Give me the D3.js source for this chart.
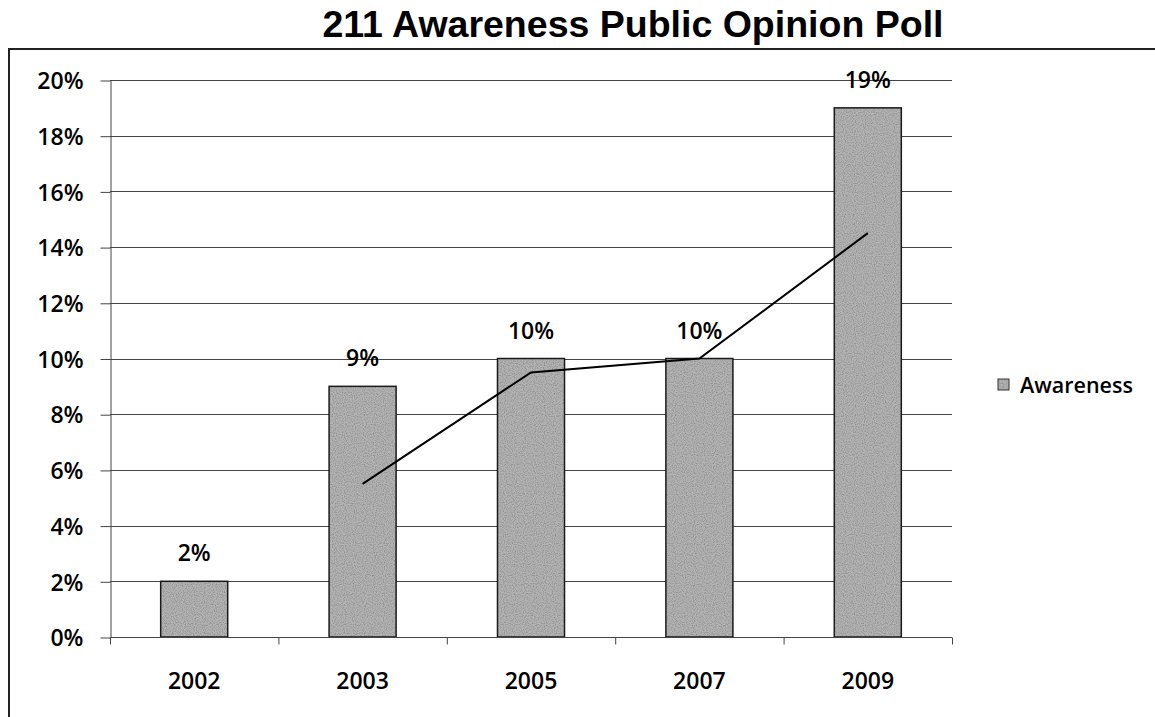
<!DOCTYPE html>
<html>
<head>
<meta charset="utf-8">
<script src="https://cdn.jsdelivr.net/npm/d3@7"></script>
<style>
  html, body { margin: 0; padding: 0; background: #fff; }
  svg { display: block; }
  .lbl { font-family: "Open Sans", "Noto Sans", sans-serif; fill: #000; font-weight: 600; }
</style>
</head>
<body>
<svg id="chart" width="1155" height="717"></svg>
<script>
// Poll years and share of respondents aware of 211
const years = ["2002", "2003", "2005", "2007", "2009"];
const awareness = [0.02, 0.09, 0.10, 0.10, 0.19];
const valueLabels = ["2%", "9%", "10%", "10%", "19%"];
// Two-period moving average trendline (no value for the first year)
const trendYears = ["2003", "2005", "2007", "2009"];
const trendValues = [0.055, 0.095, 0.10, 0.145];
const yTicks = [0, 0.02, 0.04, 0.06, 0.08, 0.10, 0.12, 0.14, 0.16, 0.18, 0.20];
const seriesName = "Awareness";
const titleText = "211 Awareness Public Opinion Poll";

const svg = d3.select("#chart");
const plotLeft = 110, plotRight = 952, plotTop = 80, plotBottom = 637;

const x = d3.scaleBand().domain(years).range([plotLeft, plotRight])
  .paddingInner(0.602).paddingOuter(0.301);
const y = d3.scaleLinear().domain([0, 0.2]).range([plotBottom, plotTop]);

const barFill = "#b3b3b3";

// Speckled grey texture for the bar fill
const defs = svg.append("defs");
const grain = defs.append("filter").attr("id", "grain")
  .attr("x", 0).attr("y", 0).attr("width", 1).attr("height", 1);
grain.append("feTurbulence").attr("type", "fractalNoise")
  .attr("baseFrequency", 0.9).attr("numOctaves", 1).attr("seed", 3).attr("result", "noise");
grain.append("feColorMatrix").attr("in", "noise").attr("type", "matrix")
  .attr("values", "0 0 0 0 0  0 0 0 0 0  0 0 0 0 0  0 0 0 1.0 -0.4")
  .attr("result", "dots");
grain.append("feComposite").attr("in", "dots").attr("in2", "SourceGraphic")
  .attr("operator", "in").attr("result", "dotsIn");
grain.append("feMerge").call(m => {
  m.append("feMergeNode").attr("in", "SourceGraphic");
  m.append("feMergeNode").attr("in", "dotsIn");
});

// Chart frame
svg.append("path")
  .attr("d", `M9,717 L9,49 L1155,49`)
  .attr("fill", "none").attr("stroke", "#222").attr("stroke-width", 2);

// Title
svg.append("text")
  .attr("x", 633).attr("y", 37)
  .attr("text-anchor", "middle")
  .style("font-family", "'Liberation Sans', Arial, sans-serif")
  .style("font-weight", "bold").style("font-size", "37.5px")
  .text(titleText);

// Horizontal gridlines
svg.append("g").selectAll("line").data(yTicks.slice(1)).join("line")
  .attr("x1", plotLeft).attr("x2", plotRight)
  .attr("y1", d => Math.round(y(d)) + 0.5).attr("y2", d => Math.round(y(d)) + 0.5)
  .attr("stroke", "#444").attr("stroke-width", 1);

// Y axis
const yAxis = svg.append("g").attr("transform", `translate(${plotLeft + 0.5},0.5)`)
  .call(d3.axisLeft(y).tickValues(yTicks).tickFormat(d3.format(".0%"))
    .tickSize(10).tickSizeOuter(0).tickPadding(17));
yAxis.select(".domain").attr("stroke", "#444");
yAxis.selectAll(".tick line").attr("stroke", "#444");
yAxis.selectAll(".tick text").attr("class", "lbl")
  .style("font-size", "23px").attr("fill", "#000").attr("dy", "0.36em");

// Bars
svg.append("g").selectAll("rect").data(years).join("rect")
  .attr("x", d => x(d))
  .attr("y", (d, i) => y(awareness[i]))
  .attr("width", x.bandwidth())
  .attr("height", (d, i) => y(0) - y(awareness[i]))
  .attr("fill", barFill).attr("filter", "url(#grain)");
svg.append("g").selectAll("rect").data(years).join("rect")
  .attr("x", d => x(d))
  .attr("y", (d, i) => y(awareness[i]))
  .attr("width", x.bandwidth())
  .attr("height", (d, i) => y(0) - y(awareness[i]))
  .attr("fill", "none").attr("stroke", "#1a1a1a").attr("stroke-width", 1.5);

// X axis with ticks between categories
const xAxisG = svg.append("g").attr("transform", `translate(0,${plotBottom + 0.5})`);
xAxisG.append("line").attr("x1", plotLeft).attr("x2", plotRight)
  .attr("stroke", "#444");
const step = x.step();
xAxisG.selectAll("line.tk").data(d3.range(years.length + 1)).join("line")
  .attr("class", "tk")
  .attr("x1", i => plotLeft + i * step + 0.5).attr("x2", i => plotLeft + i * step + 0.5)
  .attr("y1", 0).attr("y2", 7).attr("stroke", "#444");
xAxisG.selectAll("text").data(years).join("text")
  .attr("class", "lbl")
  .attr("x", d => x(d) + x.bandwidth() / 2).attr("y", 51)
  .attr("text-anchor", "middle").style("font-size", "23px")
  .text(d => d);

// Value labels above bars
svg.append("g").selectAll("text").data(years).join("text")
  .attr("class", "lbl")
  .attr("x", d => x(d) + x.bandwidth() / 2)
  .attr("y", (d, i) => y(awareness[i]) - 20)
  .attr("text-anchor", "middle").style("font-size", "23px")
  .text((d, i) => valueLabels[i]);

// Moving average trendline
const line = d3.line()
  .x(d => x(d[0]) + x.bandwidth() / 2)
  .y(d => y(d[1]));
svg.append("path")
  .datum(trendYears.map((yr, i) => [yr, trendValues[i]]))
  .attr("d", line)
  .attr("fill", "none").attr("stroke", "#000").attr("stroke-width", 2);

// Legend
const lg = svg.append("g").attr("transform", "translate(998,379)");
lg.append("rect").attr("width", 11).attr("height", 11)
  .attr("fill", barFill).attr("filter", "url(#grain)");
lg.append("rect").attr("width", 11).attr("height", 11)
  .attr("fill", "none").attr("stroke", "#333").attr("stroke-width", 1);
lg.append("text").attr("class", "lbl")
  .attr("x", 22).attr("y", 14).style("font-size", "21.5px")
  .text(seriesName);
</script>
</body>
</html>
